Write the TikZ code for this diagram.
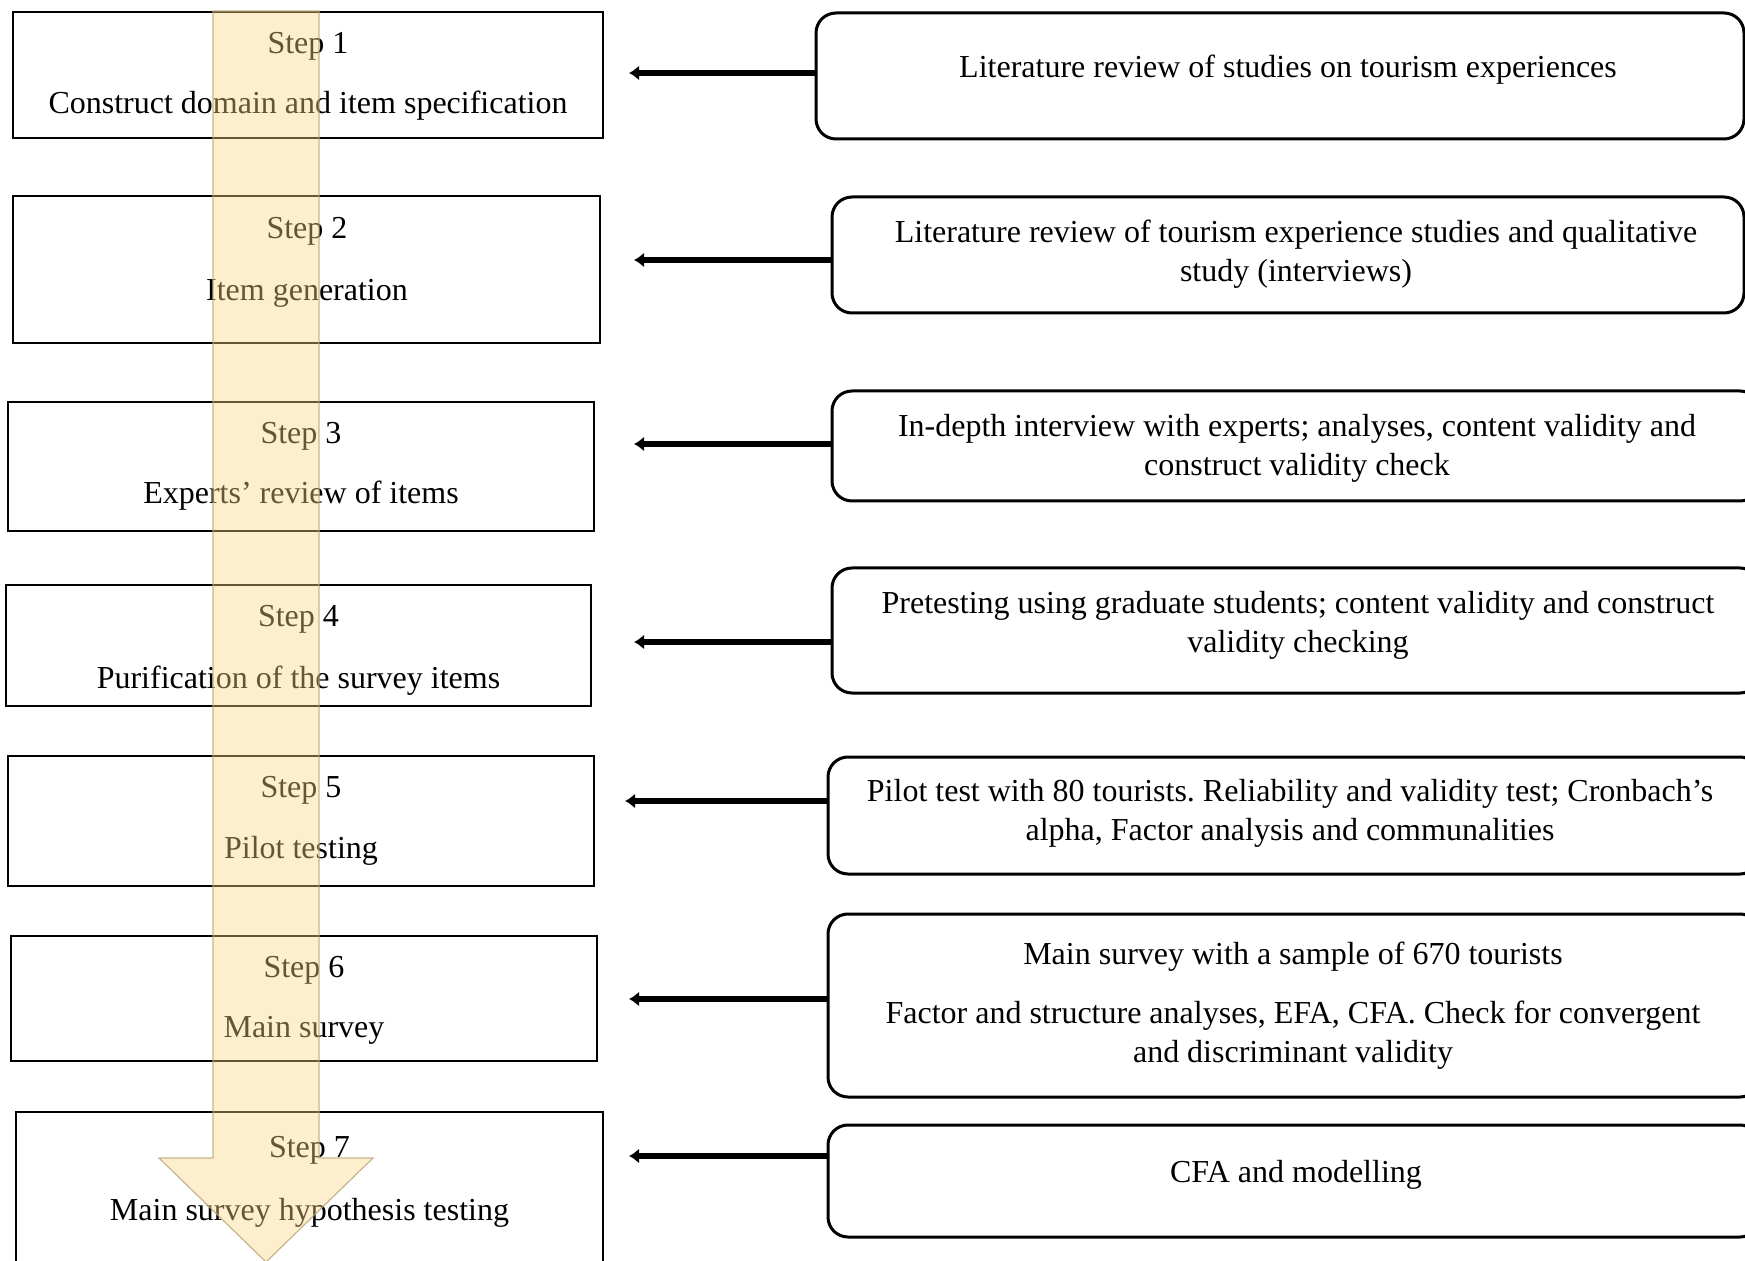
\documentclass[tikz,border=0pt]{standalone}
\usepackage{fontspec}
\setmainfont{Liberation Serif}
\usetikzlibrary{arrows.meta}
\definecolor{flowfill}{RGB}{250,215,130}
\definecolor{flowedge}{RGB}{185,165,120}
\frenchspacing
\begin{document}
\begin{tikzpicture}[x=0.5pt,y=-0.5pt,
  stepbox/.style={draw=black, line width=1.4pt, rectangle, inner sep=0pt, fill=white},
  srcbox/.style={draw=black, line width=1.5pt, rectangle, rounded corners=10pt, inner sep=0pt, fill=white},
  lbl/.style={font=\fontsize{16}{19.5}\selectfont, inner sep=0pt, align=center, yshift=-2pt,
    execute at begin node=\strut, execute at end node=\strut},
  feed/.style={line width=3.4pt, -{Latex[length=5pt,width=7.5pt]}}]
\useasboundingbox (0,0) rectangle (1745,1261);
\clip (0,0) rectangle (1745,1261);

% ---- steps (left column)
\node[stepbox, minimum width=295pt,   minimum height=63pt]   (s1) at (308,75)     {};
\node[stepbox, minimum width=293.5pt, minimum height=73.5pt] (s2) at (306.5,269.5) {};
\node[stepbox, minimum width=293pt,   minimum height=64.5pt] (s3) at (301,466.5)   {};
\node[stepbox, minimum width=292.5pt, minimum height=60.5pt] (s4) at (298.5,645.5) {};
\node[stepbox, minimum width=293pt,   minimum height=65pt]   (s5) at (301,821)     {};
\node[stepbox, minimum width=293pt,   minimum height=62.5pt] (s6) at (304,998.5)   {};
\node[stepbox, minimum width=293.5pt, minimum height=81.5pt] (s7) at (309.5,1193.5) {};

\node[lbl] (s1h) at (308,42)   {Step 1};
\node[lbl] (s1t) at (308,102)  {Construct domain and item specification};
\node[lbl] (s2h) at (307,227)  {Step 2};
\node[lbl] (s2t) at (307,289)  {Item generation};
\node[lbl] (s3h) at (301,432)  {Step 3};
\node[lbl] (s3t) at (301,492)  {Experts’ review of items};
\node[lbl] (s4h) at (298.5,615) {Step 4};
\node[lbl] (s4t) at (298.5,677) {Purification of the survey items};
\node[lbl] (s5h) at (301,786)  {Step 5};
\node[lbl] (s5t) at (301,847)  {Pilot testing};
\node[lbl] (s6h) at (304,966)  {Step 6};
\node[lbl] (s6t) at (304,1026) {Main survey};
\node[lbl] (s7h) at (309.5,1146) {Step 7};
\node[lbl] (s7t) at (309.5,1209) {Main survey hypothesis testing};

% ---- translucent downward process arrow laid over the steps
\draw[fill=flowfill, fill opacity=0.4, draw=flowedge, draw opacity=0.8, line width=0.6pt]
  (213,11) -- (319,11) -- (319,1158) -- (373,1158) -- (266,1262)
  -- (159,1158) -- (213,1158) -- cycle;

% ---- methods (right column)
\node[srcbox, minimum width=464pt, minimum height=63pt]   (r1) at (1280,76)     {};
\node[srcbox, minimum width=456pt, minimum height=58pt]   (r2) at (1288,255)    {};
\node[srcbox, minimum width=464pt, minimum height=55pt]   (r3) at (1296,446)    {};
\node[srcbox, minimum width=464pt, minimum height=62.5pt] (r4) at (1296,630.5)  {};
\node[srcbox, minimum width=466pt, minimum height=58.5pt] (r5) at (1294,815.5)  {};
\node[srcbox, minimum width=466pt, minimum height=91.5pt] (r6) at (1294,1005.5) {};
\node[srcbox, minimum width=466pt, minimum height=56pt]   (r7) at (1294,1181)   {};

\node[lbl] (r1t) at (1288,66) {Literature review of studies on tourism experiences};
\node[lbl] (r2t) at (1296,252.5) {Literature review of tourism experience studies and qualitative\\study (interviews)};
\node[lbl] (r3t) at (1297,446.5) {In-depth interview with experts; analyses, content validity and\\construct validity check};
\node[lbl] (r4t) at (1298,623.5) {Pretesting using graduate students; content validity and construct\\validity checking};
\node[lbl] (r5t) at (1290,811.5) {Pilot test with 80 tourists. Reliability and validity test; Cronbach’s\\alpha, Factor analysis and communalities};
\node[lbl] (r6a) at (1293,953) {Main survey with a sample of 670 tourists};
\node[lbl] (r6b) at (1293,1033.5) {Factor and structure analyses, EFA, CFA. Check for convergent\\and discriminant validity};
\node[lbl] (r7t) at (1296,1171) {CFA and modelling};

% ---- feed arrows from each method towards its step
\coordinate (t1) at (629,73);
\coordinate (t2) at (634,260);
\coordinate (t3) at (634,444);
\coordinate (t4) at (634,642);
\coordinate (t5) at (625,801);
\coordinate (t6) at (629,999);
\coordinate (t7) at (629,1156);
\foreach \i in {1,...,7}{
  \draw[feed] (t\i -| r\i.west) -- (t\i);
}
\end{tikzpicture}
\end{document}
